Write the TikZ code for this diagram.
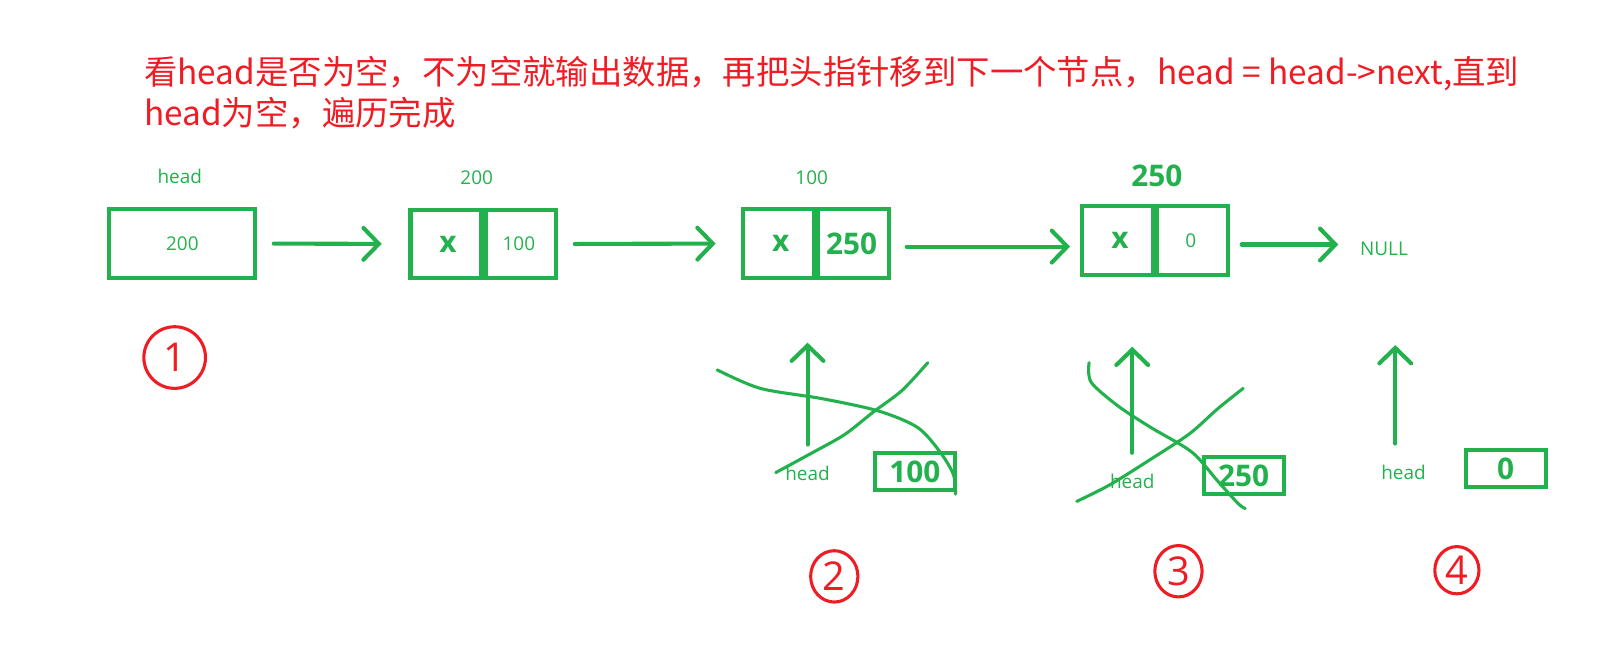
\documentclass[tikz,border=0pt]{standalone}
\usepackage{fontspec}
\setmainfont{Open Sans}
\newfontfamily\cjk{Noto Sans CJK SC}
\usetikzlibrary{
  arrows.meta,
  positioning,
  shapes.geometric
}
\definecolor{lgreen}{RGB}{34,177,76}
\definecolor{lred}{RGB}{240,28,36}

\begin{document}
\begin{tikzpicture}[
  x=0.02cm, y=-0.02cm,
  link/.style={-{Straight Barb[length=0.3cm,width=0.62cm,line cap=round]},
    line width=0.08cm,lgreen,line cap=round},
  hbox/.style={draw=lgreen,line width=0.08cm,minimum width=2.84cm,
    minimum height=1.34cm,inner sep=0pt,outer sep=0pt},
  cell/.style={hbox,minimum width=1.46cm},
  valbox/.style={hbox,minimum width=1.56cm,minimum height=0.72cm},
  small/.style={text=lgreen,font=\fontsize{10.5}{12}\selectfont},
  big/.style={text=lgreen,font=\bfseries\fontsize{16.5}{18}\selectfont},
  stepno/.style={draw=lred,ellipse,line width=0.06cm,inner sep=0pt,
    text=lred,font=\fontsize{22}{24}\selectfont},
  scribble/.style={lgreen,line width=0.06cm,line cap=round,line join=round}
]
\useasboundingbox (0,0) rectangle (1568,638);

%--------------------
% 说明文字
%--------------------
\node[anchor=base west,inner sep=0pt,text=lred,
  font=\cjk\fontsize{18.5}{22}\selectfont] (title1) at (140,82)
  {看head是否为空，不为空就输出数据，再把头指针移到下一个节点，head = head->next,直到};
\node[anchor=base west,inner sep=0pt,text=lred,
  font=\cjk\fontsize{18.5}{22}\selectfont] (title2) at (140,122)
  {head为空，遍历完成};

%--------------------
% 链表
%--------------------
\node[hbox,small] (head) at (177.5,237) {200};
\node[small] (lhead) at (175,172) {head};

\node[cell,big] (n1a) at (436,237.5) {x};
\node[cell,small,right=-0.08cm of n1a] (n1b) {100};
\node[small] (l1) at (464,173) {200};

\node[cell,big] (n2a) at (760,237) {x};
\node[cell,big,right=-0.08cm of n2a] (n2b) {250};
\node[small] (l2) at (790,173) {100};

\node[cell,big] (n3a) at (1090,234) {x};
\node[cell,small,right=-0.08cm of n3a] (n3b) {0};
\node[big] (l3) at (1126,171) {250};

\node[small] (null) at (1347,242) {NULL};

% 指针
\draw[link,shorten <=0.36cm,shorten >=0.56cm] (head.east) -- (n1a.west);
\draw[link,shorten <=0.36cm,shorten >=0.54cm] (n1b.east) -- (n2a.west);
\draw[link,shorten <=0.34cm,shorten >=0.24cm] ([yshift=-0.06cm]n2b.east) -- ([yshift=-0.06cm]n2b.east -| n3a.west);
\draw[link,shorten <=0.26cm,shorten >=0.3cm] ([yshift=-0.08cm]n3b.east) -- ([yshift=-0.08cm]n3b.east -| null.west);

%--------------------
% head 的移动
%--------------------
\node[small] (h2) at (786,461) {head};
\node[valbox,big] (v2) at (890.5,459) {100};
\draw[link,shorten <=0.3cm,shorten >=1.26cm] (h2.north) -- (h2.north |- n2a.south);

\node[small] (h3) at (1102,469) {head};
\node[valbox,big] (v3) at (1210.5,463) {250};
\draw[link,shorten <=0.3cm,shorten >=1.4cm] (h3.north) -- (h3.north |- n3a.south);

\node[small] (h4) at (1366,460) {head};
\node[valbox,big] (v4) at (1465.5,456) {0};
\draw[link,shorten <=0.3cm,shorten >=1.62cm] ([xshift=-0.16cm]h4.north) -- ([xshift=-0.16cm]h4.north |- null.south);

% 划掉的 head
\draw[scribble] plot[smooth] coordinates {(698,360) (740,378) (800,388) (855,400) (893,416) (915,440) (928,462) (930,481)};
\draw[scribble] plot[smooth] coordinates {(755,460) (790,441) (822,423) (850,401) (878,380) (903,353)};
\draw[scribble] plot[smooth] coordinates {(1060,353) (1062,372) (1088,395) (1120,416) (1160,440) (1185,468) (1205,490) (1212,495)};
\draw[scribble] plot[smooth] coordinates {(1048,488) (1080,472) (1120,447) (1158,422) (1185,398) (1210,378)};

% 步骤编号
\node[stepno,minimum width=1.2cm,minimum height=1.2cm] (s1) at (170,348) {1};
\node[stepno,minimum width=0.92cm,minimum height=1.0cm] (s2) at (812,561) {2};
\node[stepno,minimum width=0.92cm,minimum height=1.0cm] (s3) at (1147,556) {3};
\node[stepno,minimum width=0.86cm,minimum height=0.92cm] (s4) at (1418,555) {4};

\end{tikzpicture}
\end{document}
